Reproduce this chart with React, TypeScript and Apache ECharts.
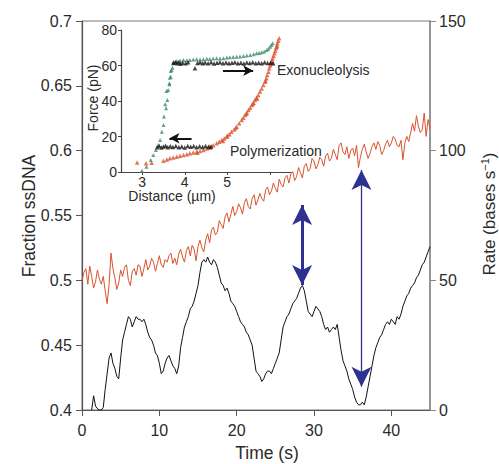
import { useEffect, useRef } from "react";
import * as echarts from "echarts";

// ---------- Main panel data ----------
const TIME_STEP = 0.25; // s, sampling of both traces
const fractionSsDNA = [
  0.500, 0.506, 0.509, 0.497, 0.511, 0.503, 0.494, 0.499, 0.508,
  0.501, 0.497, 0.503, 0.492, 0.482, 0.497, 0.521, 0.509, 0.502, 0.493, 0.498,
  0.508, 0.503, 0.510, 0.512, 0.500, 0.496, 0.507, 0.509, 0.504, 0.512, 0.511, 0.503,
  0.509, 0.516, 0.508, 0.511, 0.517, 0.514, 0.507, 0.513, 0.519, 0.512, 0.510, 0.516,
  0.514, 0.519, 0.521, 0.513, 0.517, 0.512, 0.520, 0.524, 0.518, 0.514, 0.523, 0.526,
  0.519, 0.527, 0.524, 0.515, 0.526, 0.531, 0.525, 0.522, 0.531, 0.536, 0.529, 0.539,
  0.541, 0.535, 0.537, 0.546, 0.543, 0.540, 0.549, 0.552, 0.545, 0.551, 0.557, 0.550,
  0.553, 0.559, 0.556, 0.551, 0.560, 0.563, 0.557, 0.555, 0.563, 0.566, 0.558, 0.562,
  0.567, 0.563, 0.561, 0.570, 0.572, 0.566, 0.569, 0.575, 0.571, 0.568, 0.578, 0.574,
  0.572, 0.579, 0.581, 0.575, 0.582, 0.584, 0.577, 0.580, 0.587, 0.583, 0.579, 0.588,
  0.590, 0.584, 0.586, 0.594, 0.592, 0.586, 0.589, 0.595, 0.593, 0.588, 0.596, 0.598,
  0.592, 0.594, 0.601, 0.597, 0.593, 0.604, 0.606, 0.599, 0.597, 0.603, 0.594, 0.600,
  0.602, 0.596, 0.604, 0.587, 0.595, 0.601, 0.605, 0.599, 0.594, 0.598, 0.603, 0.606,
  0.601, 0.607, 0.604, 0.597, 0.600, 0.605, 0.608, 0.603, 0.606, 0.611, 0.609, 0.604,
  0.603, 0.608, 0.593, 0.606, 0.611, 0.607, 0.614, 0.621, 0.615, 0.627, 0.619, 0.614,
  0.616, 0.629, 0.611, 0.624, 0.617,
];

const RATE_START = 1.25; // s
const rateValues = [
  0, 5.5, 1.5,
  0.5, 0, 0, 1,
  8, 14, 20, 22,
  18, 16, 13, 12,
  20, 27, 30, 33,
  36, 35, 32, 34,
  36, 35, 35, 34,
  35, 33, 30, 28,
  27, 25, 22, 21,
  18, 14, 15, 18,
  20, 21, 19, 17,
  16, 14, 17, 24,
  28, 32, 34, 36,
  39, 40, 42, 45,
  48, 53, 57, 58,
  57, 59, 57, 56,
  58, 57, 55, 52,
  49, 48, 46, 47,
  45, 42, 41, 40,
  38, 36, 34, 33,
  32, 30, 29, 27,
  25, 20, 15, 14,
  13, 11, 12, 14,
  15, 15, 14, 16,
  18, 20, 22, 27,
  32, 34, 36, 37,
  39, 41, 42, 43,
  45, 47, 48, 46,
  42, 38, 37, 36,
  38, 40, 39, 38,
  36, 33, 31, 32,
  30, 31, 32, 31,
  33, 28, 23, 19,
  17, 15, 12, 10,
  8, 5, 3, 2,
  2, 3, 2, 5,
  9, 13, 17, 21,
  24, 26, 28, 29,
  31, 33, 34, 33,
  35, 34, 33, 36,
  35, 37, 40, 42,
  44, 45, 47, 48,
  49, 51, 52, 54,
  56, 57, 59, 61,
  63,
];

const timeTicks = [0, 10, 20, 30, 40];
// blue arrows (tip to tip): [time, fraction top, fraction bottom]
const thickArrow = [28.46, 0.5581, 0.4964];
const thinArrow = [36.14, 0.5851, 0.418];

// ---------- Inset data (distance µm, force pN) ----------
const greenPulling = [
  [2.99, 0.7], [3.10, 3.0], [3.20, 6.8], [3.26, 9.6], [3.32, 12.4], [3.38, 15.2],
  [3.42, 18.0], [3.46, 22.7], [3.50, 26.5], [3.51, 31.2], [3.56, 35.9], [3.54, 38.1],
  [3.59, 40.6], [3.57, 45.6], [3.61, 46.2], [3.64, 49.4], [3.64, 50.0], [3.65, 53.1],
  [3.67, 53.7], [3.67, 56.9], [3.69, 57.5], [3.71, 58.7], [3.73, 61.2], [3.73, 61.8],
  [3.81, 62.5], [3.89, 62.8], [3.97, 63.1], [4.05, 63.0], [4.12, 63.1], [4.20, 63.4],
  [4.28, 63.5], [4.36, 63.4], [4.44, 63.5], [4.52, 63.8], [4.59, 63.7], [4.67, 63.9],
  [4.75, 64.1], [4.83, 64.0], [4.91, 64.1], [4.99, 64.5], [5.06, 64.6], [5.14, 64.8],
  [5.22, 65.0], [5.30, 65.1], [5.38, 65.4], [5.46, 65.6], [5.54, 65.9], [5.62, 66.3],
  [5.69, 66.9], [5.75, 67.1], [5.81, 67.4], [5.87, 67.9], [5.93, 68.7], [5.97, 69.5],
  [6.01, 70.6], [6.04, 71.5], [6.07, 72.5],
];

const redRelaxing = [
  [2.88, 5.4], [3.09, 4.9], [3.22, 5.2], [3.50, 6.4], [3.58, 7.0], [3.65, 7.7],
  [3.73, 8.1], [3.81, 8.6], [3.89, 9.2], [3.97, 9.6], [4.05, 10.0], [4.12, 10.5],
  [4.20, 11.0], [4.28, 11.4], [4.36, 11.8], [4.44, 12.4], [4.52, 13.2], [4.59, 14.3],
  [4.67, 15.1], [4.75, 16.2], [4.81, 17.0], [4.87, 18.0], [4.93, 18.9], [4.99, 19.9],
  [5.05, 21.2], [5.10, 22.7], [5.16, 24.0], [5.22, 25.5], [5.28, 27.4], [5.34, 29.3],
  [5.38, 30.6], [5.42, 32.1], [5.46, 33.5], [5.50, 34.9], [5.54, 36.2], [5.58, 37.7],
  [5.62, 39.0], [5.65, 40.6], [5.69, 42.0], [5.73, 43.4], [5.77, 45.3], [5.81, 47.1],
  [5.85, 49.0], [5.89, 50.9], [5.92, 52.8], [5.94, 54.6], [5.97, 56.5], [5.99, 58.4],
  [6.01, 60.0], [6.02, 61.2], [6.05, 62.8], [6.07, 64.1], [6.09, 65.5], [6.11, 66.9],
  [6.13, 68.3], [6.15, 69.7], [6.17, 71.2], [6.18, 72.5], [6.20, 74.0], [6.22, 75.3],
  [4.30, 10.8], [4.60, 13.6], [4.90, 17.4], [5.00, 20.6], [5.20, 24.8], [5.45, 32.8],
  [5.60, 38.5], [5.70, 41.2], [5.90, 51.6], [6.04, 62.0], [6.16, 70.5],
];

const blackClamp = [
  [3.74, 61.5], [3.78, 62.0], [3.82, 61.2], [3.86, 61.8], [3.90, 61.0], [3.95, 61.6],
  [4.02, 61.3], [4.08, 61.9], [4.24, 58.4], [4.30, 61.4], [4.36, 61.8], [4.42, 61.2],
  [4.48, 61.7], [4.55, 61.3], [4.62, 61.8], [4.69, 61.1], [4.76, 61.6], [4.83, 61.9],
  [4.90, 61.3], [4.97, 61.7], [5.04, 61.2], [5.11, 61.6], [5.18, 61.9], [5.25, 61.3],
  [5.32, 61.6], [5.39, 61.1], [5.46, 61.7], [5.53, 61.4], [5.60, 61.8], [5.67, 61.2],
  [5.74, 61.6], [5.81, 61.3], [5.88, 61.8], [5.95, 61.4], [6.02, 61.6], [6.08, 61.3],
  [3.35, 14.0], [3.40, 14.6], [3.45, 13.8], [3.50, 14.4], [3.55, 14.8], [3.60, 13.9],
  [3.66, 14.5], [3.72, 14.1], [3.79, 14.7], [3.86, 14.0], [3.93, 14.4], [4.00, 13.8],
  [4.07, 14.6], [4.14, 14.2], [4.21, 14.7], [4.28, 14.0], [4.35, 14.5], [4.42, 14.1],
  [4.49, 14.6], [4.56, 14.2], [4.62, 14.4],
];

// inset arrows (to the tip): [from dist, to dist, force]
const exoArrow = [4.9, 5.61, 57.1];
const polArrow = [4.16, 3.64, 19.0];

const FONT = "'Liberation Sans', Arial, Helvetica, sans-serif";
const TEXT = "#2a2a2a";
const AXIS = "#555";
const RED = "#d8532e";
const GREEN = "#3a8a6a";
const BLUE = "#2e3192";

export default function App() {
  const ref = useRef<HTMLDivElement>(null);

  useEffect(() => {
    if (!ref.current) return;
    const chart = echarts.init(ref.current, null, { renderer: "svg" });

    const redData = fractionSsDNA.map((v, i) => [i * TIME_STEP, v]);
    const rateData = rateValues.map((v, i) => [RATE_START + i * TIME_STEP, v]);

    const mainLabel = { color: TEXT, fontSize: 16, fontFamily: FONT };
    const insetLabel = { color: TEXT, fontSize: 14, fontFamily: FONT };

    chart.setOption({
      animation: false,
      grid: [
        {
          left: 82, right: 69, top: 21, bottom: 54,
          show: true, borderColor: "#777", borderWidth: 1,
          backgroundColor: "transparent",
        },
        { left: 121, top: 30, width: 170, height: 142 },
      ],
      xAxis: [
        {
          type: "value", gridIndex: 0, min: 0, max: 45,
          axisLine: { lineStyle: { color: AXIS, width: 1.2 } },
          axisTick: { customValues: timeTicks, length: 6, lineStyle: { color: AXIS } },
          axisLabel: { ...mainLabel, customValues: timeTicks, margin: 12 },
          splitLine: { show: false },
        },
        {
          type: "value", gridIndex: 1, min: 2.5, max: 6.5,
          axisLine: { onZero: false, lineStyle: { color: "#444", width: 1.2 } },
          axisTick: { customValues: [3, 4, 5, 6], length: 3, lineStyle: { color: "#444" } },
          axisLabel: { ...insetLabel, customValues: [3, 4, 5], margin: 3, lineHeight: 13 },
          splitLine: { show: false },
        },
      ],
      yAxis: [
        {
          type: "value", gridIndex: 0, min: 0.4, max: 0.7, interval: 0.05,
          axisLine: { show: true, lineStyle: { color: AXIS, width: 1.2 } },
          axisTick: { show: true, length: 6, lineStyle: { color: AXIS } },
          axisLabel: { ...mainLabel, margin: 10 },
          splitLine: { show: false },
        },
        {
          type: "value", gridIndex: 0, position: "right", min: 0, max: 150, interval: 50,
          axisLine: { show: true, lineStyle: { color: "#888", width: 1.5 } },
          axisTick: { show: true, length: 6, lineStyle: { color: "#888" } },
          axisLabel: { ...mainLabel, margin: 9 },
          splitLine: { show: false },
        },
        {
          type: "value", gridIndex: 1, min: 0, max: 80, interval: 20,
          axisLine: { show: true, onZero: false, lineStyle: { color: "#444", width: 1.2 } },
          axisTick: { show: true, length: 3, lineStyle: { color: "#444" } },
          axisLabel: { ...insetLabel, margin: 4 },
          splitLine: { show: false },
        },
      ],
      series: [
        {
          type: "line", xAxisIndex: 0, yAxisIndex: 0, data: redData,
          showSymbol: false, symbol: "none", silent: true,
          lineStyle: { color: RED, width: 1 },
          markLine: {
            silent: true,
            symbol: ["arrow", "arrow"],
            label: { show: false },
            emphasis: { disabled: true },
            lineStyle: { color: BLUE, type: "solid" },
            data: [
              [
                { coord: [thickArrow[0], thickArrow[1]], symbolSize: [15, 20], lineStyle: { width: 3, color: BLUE, type: "solid" } },
                { coord: [thickArrow[0], thickArrow[2]], symbolSize: [15, 20] },
              ],
              [
                { coord: [thinArrow[0], thinArrow[1]], symbolSize: [15, 20], lineStyle: { width: 1.3, color: BLUE, type: "solid" } },
                { coord: [thinArrow[0], thinArrow[2]], symbolSize: [15, 20] },
              ],
            ],
          },
        },
        {
          type: "line", xAxisIndex: 0, yAxisIndex: 1, data: rateData,
          showSymbol: false, symbol: "none", silent: true,
          lineStyle: { color: "#111", width: 1 },
        },
        {
          type: "scatter", xAxisIndex: 1, yAxisIndex: 2, data: greenPulling,
          symbol: "triangle", symbolSize: 4, silent: true,
          itemStyle: { color: GREEN },
        },
        {
          type: "scatter", xAxisIndex: 1, yAxisIndex: 2, data: redRelaxing,
          symbol: "triangle", symbolSize: 4.5, silent: true,
          itemStyle: { color: RED },
        },
        {
          type: "scatter", xAxisIndex: 1, yAxisIndex: 2, data: blackClamp,
          symbol: "triangle", symbolSize: 4.5, silent: true,
          itemStyle: { color: "#151515" },
          markLine: {
            silent: true,
            symbol: ["none", "arrow"],
            symbolSize: [8, 10],
            label: { show: false },
            emphasis: { disabled: true },
            lineStyle: { color: "#111", width: 2, type: "solid" },
            data: [
              [{ coord: [exoArrow[0], exoArrow[2]] }, { coord: [exoArrow[1], exoArrow[2]] }],
              [{ coord: [polArrow[0], polArrow[2]] }, { coord: [polArrow[1], polArrow[2]] }],
            ],
          },
        },
      ],
      graphic: [
        {
          type: "text", x: 29, y: 216, rotation: Math.PI / 2,
          style: { text: "Fraction ssDNA", fill: TEXT, fontSize: 17.5, fontFamily: FONT, align: "center", verticalAlign: "middle" },
        },
        {
          type: "text", x: 489, y: 214, rotation: Math.PI / 2,
          style: {
            text: "Rate (bases s{sup|−1})",
            fill: TEXT, fontSize: 17, fontFamily: FONT, align: "center", verticalAlign: "middle",
            rich: { sup: { fontSize: 11, fontFamily: FONT, fill: TEXT, padding: [0, 0, 9, 0] } },
          },
        },
        {
          type: "text", x: 267, y: 453,
          style: { text: "Time (s)", fill: TEXT, fontSize: 17.5, fontFamily: FONT, align: "center", verticalAlign: "middle" },
        },
        {
          type: "text", x: 93, y: 98, rotation: Math.PI / 2,
          style: { text: "Force (pN)", fill: TEXT, fontSize: 14, fontFamily: FONT, align: "center", verticalAlign: "middle" },
        },
        {
          type: "text", x: 172, y: 196,
          style: { text: "Distance (µm)", fill: TEXT, fontSize: 14, fontFamily: FONT, lineHeight: 14, align: "center", verticalAlign: "middle" },
        },
        {
          type: "text", x: 277, y: 70,
          style: { text: "Exonucleolysis", fill: TEXT, fontSize: 14, fontFamily: FONT, align: "left", verticalAlign: "middle" },
        },
        {
          type: "text", x: 230, y: 151,
          style: { text: "Polymerization", fill: TEXT, fontSize: 14, fontFamily: FONT, align: "left", verticalAlign: "middle" },
        },
      ],
    });

    return () => chart.dispose();
  }, []);

  return (
    <div
      ref={ref}
      style={{ position: "absolute", left: 0, top: 0, width: 499, height: 464, background: "#fff" }}
    />
  );
}
